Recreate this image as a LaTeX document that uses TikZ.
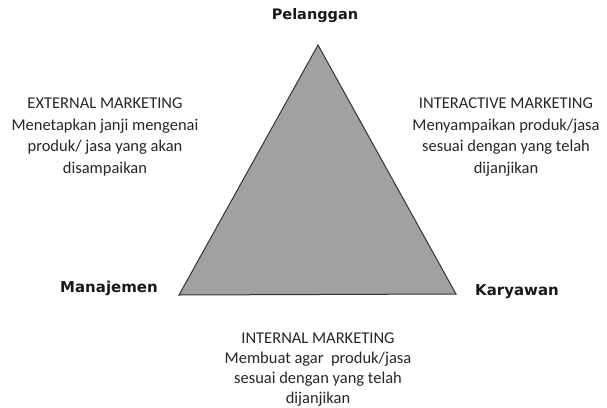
\documentclass[tikz,border=0pt]{standalone}
\usepackage{fontspec}
\setmainfont{Carlito}
\newfontfamily\labelfont{DejaVu Sans}
\begin{document}
\begin{tikzpicture}[x=1pt,y=-1pt,
  corner/.style={font=\labelfont\bfseries\fontsize{15}{17}\selectfont, text=black!90},
  roleblock/.style={align=center, font=\fontsize{16.5}{21.5}\selectfont, text=black!85},
  lowblock/.style={align=center, font=\fontsize{16.5}{20}\selectfont, text=black!85},
  apexfill/.style={fill=black!37, draw=black!80, line width=1pt, line join=miter}]
\useasboundingbox (0,0) rectangle (607,407);
% corners of the triangle
\coordinate (top) at (318,45);
\coordinate (left) at (179,295);
\coordinate (right) at (456,294);
\path[apexfill] (top) -- (left) -- (right) -- cycle;
% vertex labels
\node[corner, font=\labelfont\bfseries\fontsize{14.5}{17}\selectfont] (pel) at (315,16) {Pelanggan};
\node[corner] (man) at (109,288) {Manajemen};
\node[corner] (kar) at (517,292) {Karyawan};
% side descriptions
\node[roleblock] (ext) at (105,137) {EXTERNAL MARKETING\\Menetapkan janji mengenai\\produk/ jasa yang akan\\disampaikan};
\node[roleblock] (int) at (506,137) {INTERACTIVE MARKETING\\Menyampaikan produk/jasa\\sesuai dengan yang telah\\dijanjikan};
\node[lowblock] (inr) at (318,370) {INTERNAL MARKETING\\Membuat agar\ \ produk/jasa\\sesuai dengan yang telah\\dijanjikan};
\end{tikzpicture}
\end{document}
